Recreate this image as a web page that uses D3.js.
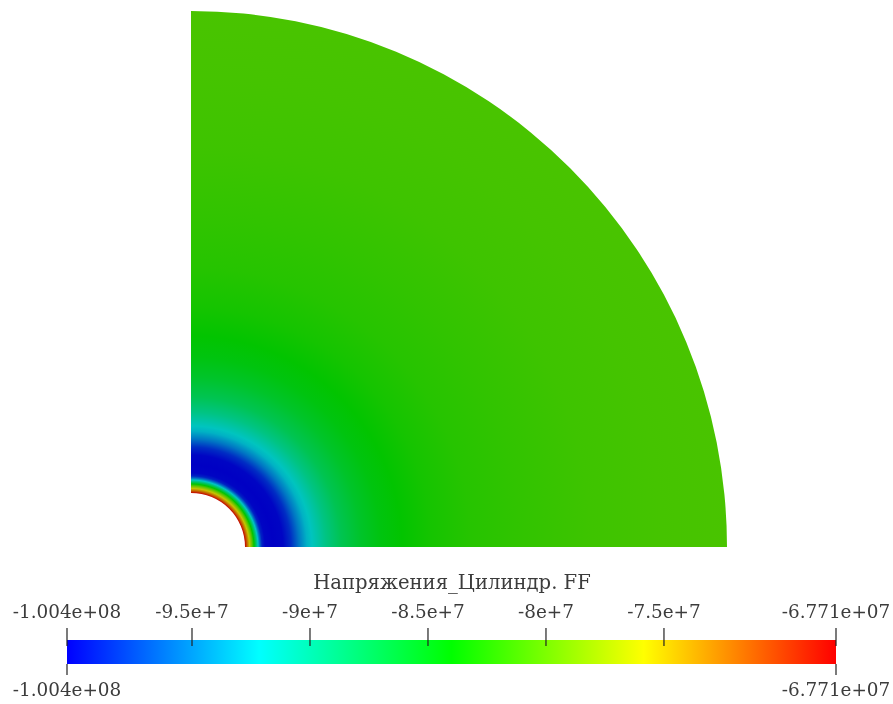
<!DOCTYPE html>
<html><head><meta charset="utf-8">
<script src="https://cdn.jsdelivr.net/npm/d3@7/dist/d3.min.js"></script>
<style>html,body{margin:0;padding:0;background:#fff}svg{display:block}text{font-family:"DejaVu Serif",serif;fill:#3c3c3c}</style>
</head><body><svg id="c" width="893" height="704"></svg>
<script>
// Radial profile of the field
const radii = [54,56,58.5,61,63,65,67,69,71,74,82,92,100,108,116,121,135,150,170,190,211,240,280,330,400,470,536];
const stress = [-6.771e7,-7.15e7,-7.59e7,-8e7,-8.4e7,-8.8e7,-9.22e7,-9.6e7,-9.9e7,-1.002e8,-1.004e8,-1.002e8,-9.85e7,-9.55e7,-9.3e7,-9.2e7,-8.95e7,-8.75e7,-8.58e7,-8.47e7,-8.4e7,-8.32e7,-8.25e7,-8.2e7,-8.15e7,-8.12e7,-8.1e7];
// Colour bar
const vMin = -1.004e8, vMax = -6.771e7;
const rainbow = ["#0000ff","#00ffff","#00ff00","#ffff00","#ff0000"];
const tickValues = [-9.5e7,-9e7,-8.5e7,-8e7,-7.5e7];
const tickLabels = ["-9.5e+7","-9e+7","-8.5e+7","-8e+7","-7.5e+7"];
const endLabels = ["-1.004e+08","-6.771e+07"];
const title = "Напряжения_Цилиндр. FF";
const shade = 0.77;

const svg = d3.select("#c"), defs = svg.append("defs");
const cx = 191, cy = 547, R = 536, r0 = 54;
const color = d3.scaleLinear().domain(d3.range(5).map(i => vMin + (vMax - vMin) * i / 4)).range(rainbow).clamp(true);
const shaded = v => { const c = d3.rgb(color(v)); return d3.rgb(c.r * shade, c.g * shade, c.b * shade).formatHex(); };

const rg = defs.append("radialGradient").attr("id","field").attr("gradientUnits","userSpaceOnUse")
  .attr("cx",0).attr("cy",0).attr("r",R);
rg.selectAll("stop").data(radii).join("stop")
  .attr("offset",(d)=>d/R).attr("stop-color",(d,i)=>shaded(stress[i]));
defs.append("filter").attr("id","soft").attr("x","-5%").attr("y","-20%").attr("width","110%").attr("height","140%")
  .attr("color-interpolation-filters","sRGB")
  .append("feGaussianBlur").attr("stdDeviation",0.45);
svg.append("path").attr("transform",`translate(${cx},${cy})`).attr("filter","url(#soft)")
  .attr("d",d3.arc()({innerRadius:r0,outerRadius:R,startAngle:0,endAngle:Math.PI/2}))
  .attr("fill","url(#field)");

const x = d3.scaleLinear().domain([vMin,-9.5e7,vMax]).range([67,192,836]);
const lg = defs.append("linearGradient").attr("id","bar");
lg.selectAll("stop").data(rainbow).join("stop")
  .attr("offset",(d,i)=>i/4).attr("stop-color",d=>d);
const barTop=640, barBot=664;
svg.append("rect").attr("x",x(vMin)).attr("y",barTop).attr("width",x(vMax)-x(vMin)).attr("height",barBot-barTop).attr("fill","url(#bar)");

const allTicks=[vMin,...tickValues,vMax], allLabels=[endLabels[0],...tickLabels,endLabels[1]];
const tk=svg.append("g").attr("stroke","#222").attr("stroke-width",1.2);
tk.selectAll("line").data(allTicks).join("line").attr("x1",d=>x(d)).attr("x2",d=>x(d)).attr("y1",628).attr("y2",646);
tk.append("g").selectAll("line").data([vMin,vMax]).join("line").attr("x1",d=>x(d)).attr("x2",d=>x(d)).attr("y1",664).attr("y2",675);

const fs=18.4;
const txt=svg.append("g").attr("filter","url(#soft)");
txt.append("g").attr("text-anchor","middle").attr("font-size",fs).selectAll("text").data(allTicks).join("text")
  .attr("x",d=>x(d)).attr("y",618).text((d,i)=>allLabels[i]);
txt.append("g").attr("text-anchor","middle").attr("font-size",fs).selectAll("text").data([vMin,vMax]).join("text")
  .attr("x",d=>x(d)).attr("y",696).text((d,i)=>endLabels[i]);
txt.append("text").attr("x",452).attr("y",589).attr("text-anchor","middle").attr("font-size",19.6).text(title);
</script></body></html>
